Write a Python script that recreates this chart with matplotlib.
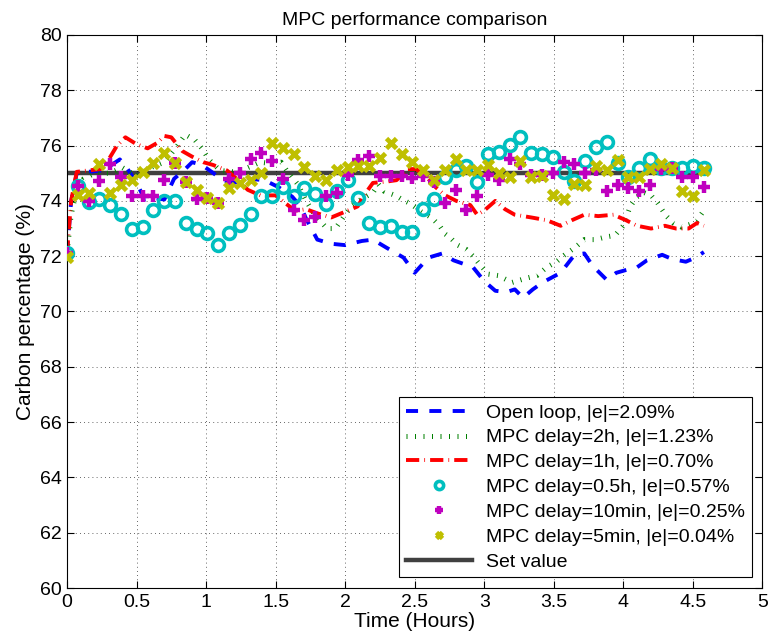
import numpy as np
import matplotlib
matplotlib.use("Agg")
import matplotlib.pyplot as plt

plt.rcParams['font.family'] = ['Liberation Sans', 'DejaVu Sans']

# sample times of the marker series (hours)
t = np.linspace(0, 4.58, 60)

mpc_05h = [72.1, 74.55, 73.97, 74.06, 73.84, 73.53, 72.98, 73.05, 73.67, 74.0,
           74.0, 73.19, 73.0, 72.83, 72.42, 72.85, 73.12, 73.53, 74.18, 74.18,
           74.51, 74.18, 74.45, 74.25, 73.9, 74.36, 74.76, 74.12, 73.21, 73.06,
           73.1, 72.87, 72.86, 73.72, 74.07, 74.85, 75.13, 75.28, 74.69, 75.7,
           75.78, 76.02, 76.32, 75.74, 75.7, 75.6, 75.06, 74.72, 75.45, 75.94,
           76.14, 75.38, 74.88, 75.18, 75.52, 75.2, 75.18, 75.18, 75.27, 75.18]

mpc_10min = [72.13, 74.54, 74.0, 74.73, 75.35, 74.87, 74.18, 74.18, 74.18, 74.76,
             75.36, 74.7, 74.06, 74.1, 73.93, 74.8, 75.0, 75.5, 75.74, 75.45,
             74.78, 73.66, 73.32, 73.43, 74.19, 74.28, 74.95, 75.47, 75.63, 74.91,
             74.91, 74.91, 74.82, 74.9, 74.68, 73.93, 74.39, 73.67, 74.18, 74.93,
             74.77, 75.5, 75.33, 74.94, 74.95, 75.0, 75.4, 75.35, 75.0, 75.12,
             74.37, 74.57, 74.45, 74.37, 74.57, 75.15, 75.2, 74.87, 74.87, 74.51]

mpc_5min = [71.98, 74.2, 74.3, 75.33, 74.3, 74.58, 74.76, 75.06, 75.36, 75.74,
            75.38, 74.7, 74.39, 74.09, 73.93, 74.45, 74.64, 74.76, 75.0, 76.08,
            75.9, 75.7, 75.23, 74.91, 74.76, 75.12, 75.22, 75.27, 75.27, 75.56,
            76.08, 75.69, 75.4, 75.12, 74.76, 75.1, 75.5, 75.1, 75.1, 75.3,
            75.0, 74.85, 75.45, 74.88, 74.9, 74.21, 74.06, 74.62, 74.57, 75.28,
            75.13, 75.49, 74.87, 74.88, 75.14, 75.33, 75.19, 74.37, 74.18, 75.1]

open_t = [0, 0.03, 0.07, 0.15, 0.25, 0.32, 0.38, 0.43, 0.5, 0.56,
          0.63, 0.7, 0.77, 0.84, 0.9, 0.97, 1.04, 1.12, 1.2, 1.3,
          1.42, 1.52, 1.62, 1.68, 1.72, 1.8, 1.9, 2.0, 2.12, 2.2,
          2.3, 2.42, 2.5, 2.6, 2.7, 2.78, 2.92, 3.0, 3.08, 3.16,
          3.22, 3.28, 3.35, 3.42, 3.55, 3.65, 3.72, 3.78, 3.88, 3.95,
          4.02, 4.1, 4.17, 4.28, 4.35, 4.45, 4.52, 4.58]
open_y = [72.1, 74.0, 75.0, 75.05, 75.1, 75.3, 75.5, 75.2, 74.65, 74.05,
          74.1, 74.05, 74.8, 75.1, 75.4, 75.3, 75.05, 74.75, 74.65, 74.8,
          74.75, 74.5, 74.15, 73.8, 73.35, 72.6, 72.45, 72.4, 72.55, 72.6,
          72.3, 71.95, 71.4, 71.95, 72.1, 71.85, 71.6, 71.1, 70.75, 70.7,
          70.8, 70.5, 70.8, 71.05, 71.4, 72.05, 72.1, 71.65, 71.15, 71.4,
          71.5, 71.6, 71.85, 72.05, 71.9, 71.8, 71.95, 72.15]

d2h_t = [0, 0.03, 0.07, 0.12, 0.2, 0.3, 0.4, 0.5, 0.6, 0.7,
         0.78, 0.85, 0.92, 0.97, 1.02, 1.1, 1.2, 1.3, 1.39, 1.47,
         1.54, 1.58, 1.66, 1.72, 1.78, 1.87, 1.93, 2.0, 2.05, 2.13,
         2.2, 2.24, 2.28, 2.36, 2.41, 2.47, 2.55, 2.62, 2.68, 2.72,
         2.76, 2.81, 2.87, 2.92, 2.96, 3.03, 3.1, 3.2, 3.3, 3.38,
         3.45, 3.52, 3.58, 3.65, 3.72, 3.8, 3.88, 3.94, 4.0, 4.05,
         4.1, 4.15, 4.2, 4.25, 4.31, 4.36, 4.42, 4.48, 4.53, 4.58]
d2h_y = [72.1, 73.5, 74.4, 74.8, 75.0, 75.0, 75.2, 74.9, 75.2, 75.4,
         75.9, 76.4, 76.2, 75.9, 75.5, 75.1, 75.05, 75.2, 75.4, 75.35,
         75.4, 75.1, 74.6, 74.0, 73.5, 73.0, 73.0, 73.5, 73.85, 74.1,
         74.3, 74.6, 74.35, 74.2, 74.05, 73.9, 73.6, 73.4, 73.1, 72.8,
         72.65, 72.4, 72.25, 72.0, 71.75, 71.35, 71.3, 71.05, 71.2, 71.3,
         71.6, 71.8, 72.05, 72.3, 72.6, 72.6, 72.7, 72.75, 73.1, 73.8,
         74.15, 74.3, 74.2, 73.9, 73.45, 73.2, 73.05, 73.15, 73.3, 73.65]

d1h_t = [0, 0.03, 0.07, 0.15, 0.24, 0.3, 0.36, 0.42, 0.5, 0.58,
         0.65, 0.7, 0.75, 0.83, 0.9, 0.98, 1.05, 1.15, 1.22, 1.3,
         1.39, 1.5, 1.6, 1.65, 1.72, 1.8, 1.9, 2.02, 2.09, 2.15,
         2.2, 2.3, 2.37, 2.45, 2.51, 2.58, 2.65, 2.72, 2.8, 2.9,
         2.95, 3.0, 3.08, 3.15, 3.22, 3.34, 3.45, 3.55, 3.63, 3.72,
         3.82, 3.93, 4.02, 4.1, 4.2, 4.3, 4.38, 4.47, 4.53, 4.58]
d1h_y = [72.1, 74.0, 75.05, 75.1, 75.15, 75.5, 76.0, 76.3, 76.05, 75.9,
         76.1, 76.35, 76.3, 75.8, 75.6, 75.4, 75.3, 75.1, 74.8, 74.4,
         74.2, 74.2, 73.8, 73.65, 73.7, 73.55, 73.4, 73.65, 73.8, 74.3,
         74.65, 74.7, 74.75, 75.15, 75.15, 74.9, 74.5, 74.2, 74.0, 73.85,
         73.5, 73.65, 74.0, 73.7, 73.5, 73.4, 73.3, 73.1, 73.3, 73.5,
         73.45, 73.5, 73.3, 73.1, 73.0, 73.1, 73.0, 73.0, 73.2, 73.1]

set_t = [0, 4.6]
set_y = [75, 75]

fig = plt.figure(figsize=(7.7, 6.42), dpi=100)
ax = fig.add_axes([0.087, 0.0841, 0.903, 0.8614])

h_set, = ax.plot(set_t, set_y, color='#404040', lw=3.2, zorder=1.5, label='Set value')
h_ol, = ax.plot(open_t, open_y, color='#0000ff', lw=2.8, dashes=(3.1, 2.9),
                dash_capstyle='butt', label='Open loop, |e|=2.09%')
h_2h, = ax.plot(d2h_t, d2h_y, color='#008000', lw=3.6, dashes=(0.2, 1.5),
                dash_capstyle='butt', label='MPC delay=2h, |e|=1.23%')
h_1h, = ax.plot(d1h_t, d1h_y, color='#ff0000', lw=2.8, dashes=(3.4, 1.3, 0.2, 1.3),
                dash_capstyle='butt', label='MPC delay=1h, |e|=0.70%')
h_05, = ax.plot(t, mpc_05h, ls='none', marker='o', ms=8.5, mfc='none', mec='#00bfbf',
                mew=2.6, zorder=3, label='MPC delay=0.5h, |e|=0.57%')
h_10, = ax.plot(t, mpc_10min, ls='none', marker='+', ms=8, mec='#bf00bf',
                mew=3.2, zorder=3, label='MPC delay=10min, |e|=0.25%')
h_5, = ax.plot(t, mpc_5min, ls='none', marker='x', ms=6.5, mec='#bfbf00',
               mew=3.4, zorder=3, label='MPC delay=5min, |e|=0.04%')

ax.set_xlim(0, 5)
ax.set_ylim(60, 80)
ax.set_xticks(np.arange(0, 5.01, 0.5))
ax.set_xticklabels(['0', '0.5', '1', '1.5', '2', '2.5', '3', '3.5', '4', '4.5', '5'])
ax.set_yticks(np.arange(60, 81, 2))
ax.tick_params(direction='in', top=True, right=True, length=5, labelsize=14, pad=4)
ax.grid(True, color='black', ls=(0, (1, 4)), lw=0.6, alpha=0.8)
ax.set_xlabel('Time (Hours)', fontsize=15, labelpad=1)
ax.set_ylabel('Carbon percentage (%)', fontsize=15, labelpad=3)
ax.set_title('MPC performance comparison', fontsize=14, pad=7)

leg = ax.legend(handles=[h_ol, h_2h, h_1h, h_05, h_10, h_5, h_set], loc='lower right',
                fontsize=14, fancybox=False, framealpha=1, edgecolor='black',
                handlelength=3.4, handletextpad=0.7, labelspacing=0.37,
                borderaxespad=0.55, borderpad=0.35, markerscale=0.7)
leg.get_frame().set_linewidth(0.8)

fig.savefig('out.png', dpi=100)
